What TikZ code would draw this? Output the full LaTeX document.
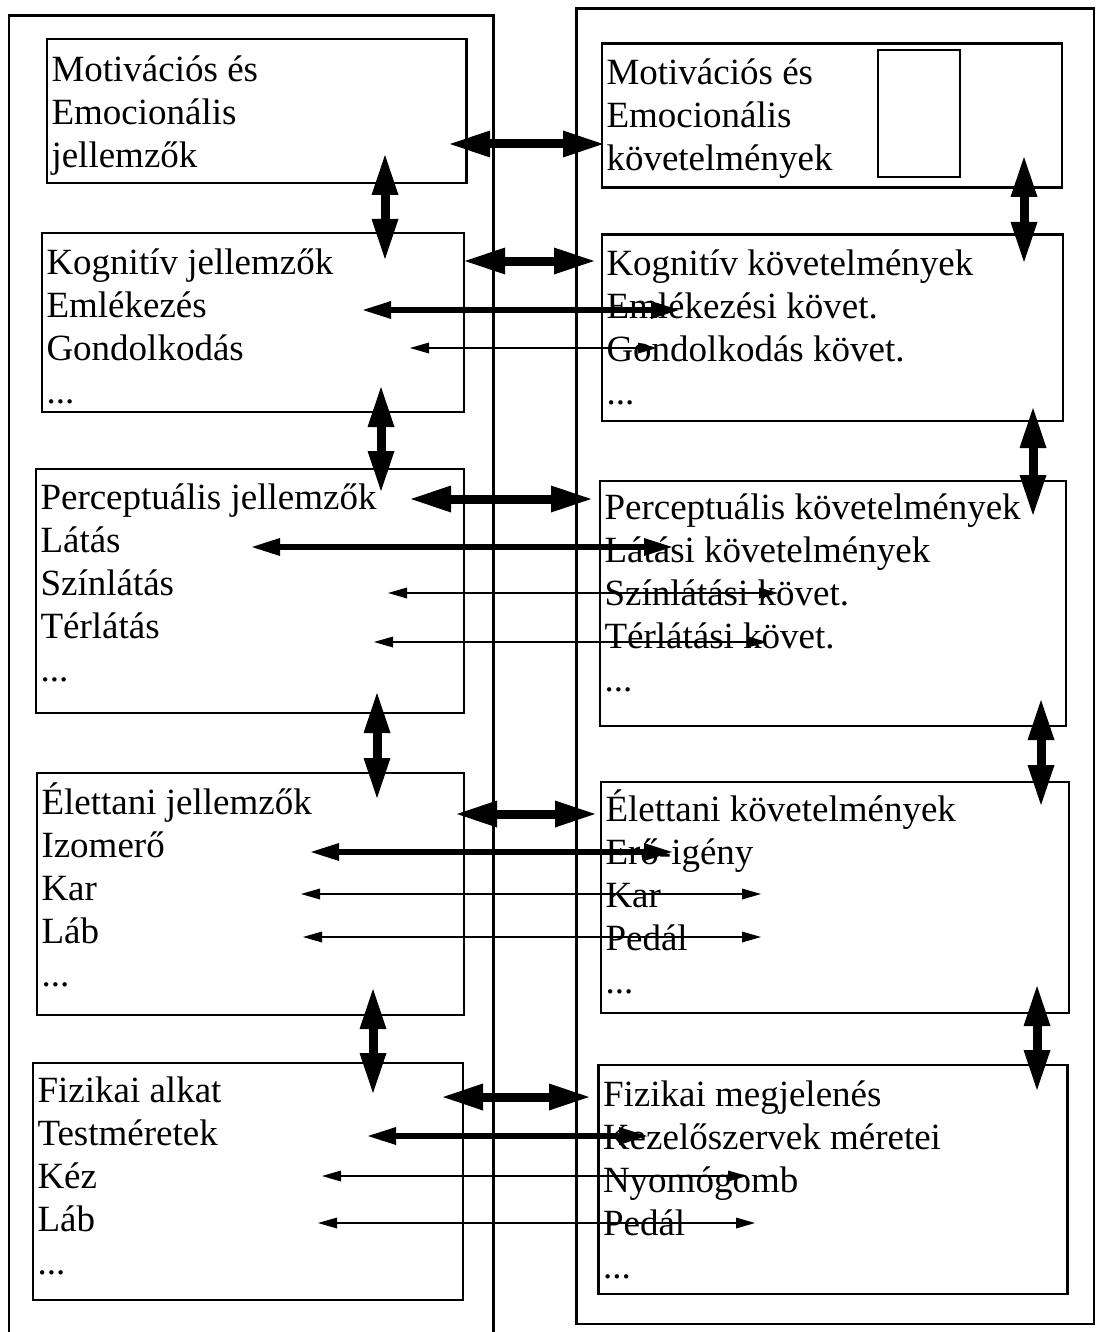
\documentclass[tikz,border=0pt]{standalone}
\usepackage{fontspec}
\setmainfont{Liberation Serif}
\usetikzlibrary{arrows.meta,calc}
\newcommand{\firstln}{\rule{0pt}{36pt}}
\begin{document}
\begin{tikzpicture}[x=1pt,y=-1pt,
  frame/.style={line width=2.6pt},
  box/.style={draw,line width=2.6pt,inner sep=0pt,outer sep=0pt,anchor=north west},
  txt/.style={inner sep=0pt,outer sep=0pt,anchor=north west,align=left,
    font=\fontsize{37}{43}\selectfont},
  bigarrow/.style={line width=9pt,{Triangle[length=40pt,width=27pt,line width=0pt]}-{Triangle[length=40pt,width=27pt,line width=0pt]}},
  midarrow/.style={line width=5.5pt,{Triangle[length=28pt,width=18pt,line width=0pt]}-{Triangle[length=28pt,width=18pt,line width=0pt]}},
  thinarrow/.style={line width=2.4pt,{Triangle[length=19pt,width=11pt,line width=0pt]}-{Triangle[length=19pt,width=11pt,line width=0pt]}}]
\useasboundingbox (0,0) rectangle (1097,1332);

% the two column frames (the left one runs off the bottom)
\draw[frame] (9,1332) -- (9,15.5) -- (493.5,15.5) -- (493.5,1332);
\node[box,minimum width=517.5pt,minimum height=1315.5pt] (rframe) at (576.5,8.5) {};

% left column: human characteristics
\node[box,minimum width=419.5pt,minimum height=144pt] (L1) at (47,39) {};
\node[box,minimum width=422pt,minimum height=179pt] (L2) at (42,233) {};
\node[box,minimum width=428pt,minimum height=244pt] (L3) at (36,469) {};
\node[box,minimum width=427pt,minimum height=242pt] (L4) at (37,773) {};
\node[box,minimum width=430pt,minimum height=237pt] (L5) at (33,1063) {};

% right column: requirements
\node[box,minimum width=460pt,minimum height=144pt] (R1) at (602,43.5) {};
\node[box,minimum width=82pt,minimum height=127pt] (R1i) at (878,50) {};
\node[box,minimum width=461pt,minimum height=186.5pt] (R2) at (602,234.5) {};
\node[box,minimum width=466pt,minimum height=245pt] (R3) at (600,481) {};
\node[box,minimum width=468pt,minimum height=231pt] (R4) at (601,782) {};
\node[box,minimum width=469pt,minimum height=229pt] (R5) at (598.5,1065) {};

% box texts
\node[txt] (L1t) at ($(L1.north west)+(4.5pt,-7pt)$) {\firstln Motivációs és\\Emocionális\\jellemzők};
\node[txt] (L2t) at ($(L2.north west)+(4.5pt,-5.5pt)$) {\firstln Kognitív jellemzők\\Emlékezés\\Gondolkodás\\...};
\node[txt] (L3t) at ($(L3.north west)+(4.5pt,-4.5pt)$) {\firstln Perceptuális jellemzők\\Látás\\Színlátás\\Térlátás\\...};
\node[txt] (L4t) at ($(L4.north west)+(4.5pt,-5pt)$) {\firstln Élettani jellemzők\\Izomerő\\Kar\\Láb\\...};
\node[txt] (L5t) at ($(L5.north west)+(4.5pt,-3.5pt)$) {\firstln Fizikai alkat\\Testméretek\\Kéz\\Láb\\...};
\node[txt] (R1t) at ($(R1.north west)+(4.5pt,-5pt)$) {\firstln Motivációs és\\Emocionális\\követelmények};
\node[txt] (R2t) at ($(R2.north west)+(4.5pt,-5pt)$) {\firstln Kognitív követelmények\\Emlékezési követ.\\Gondolkodás követ.\\...};
\node[txt] (R3t) at ($(R3.north west)+(4.5pt,-2.5pt)$) {\firstln Perceptuális követelmények\\Látási követelmények\\Színlátási követ.\\Térlátási követ.\\...};
\node[txt] (R4t) at ($(R4.north west)+(4.5pt,-3.5pt)$) {\firstln Élettani követelmények\\Erő-igény\\Kar\\Pedál\\...};
\node[txt] (R5t) at ($(R5.north west)+(4.5pt,-5pt)$) {\firstln Fizikai megjelenés\\Kezelőszervek méretei\\Nyomógomb\\Pedál\\...};

% arrow end points
\coordinate (h1a) at (450,144);   \coordinate (h1b) at (603,144);
\coordinate (h2a) at (465,261);   \coordinate (h2b) at (594,261);
\coordinate (h3a) at (411,499);   \coordinate (h3b) at (591,499);
\coordinate (h4a) at (457,814);   \coordinate (h4b) at (595,814);
\coordinate (h5a) at (443,1097);  \coordinate (h5b) at (589,1097);

\coordinate (vl1a) at (385,155);  \coordinate (vl1b) at (385,259);
\coordinate (vl2a) at (381,387);  \coordinate (vl2b) at (381,491);
\coordinate (vl3a) at (377,693);  \coordinate (vl3b) at (377,798);
\coordinate (vl4a) at (373,989);  \coordinate (vl4b) at (373,1093);
\coordinate (vr1a) at (1024,157); \coordinate (vr1b) at (1024,262);
\coordinate (vr2a) at (1033,408); \coordinate (vr2b) at (1033,515);
\coordinate (vr3a) at (1041,700); \coordinate (vr3b) at (1041,805);
\coordinate (vr4a) at (1037,986); \coordinate (vr4b) at (1037,1090);

\coordinate (m1a) at (363,310);   \coordinate (m1b) at (679,310);
\coordinate (m2a) at (252,547);   \coordinate (m2b) at (672,547);
\coordinate (m3a) at (311,852);   \coordinate (m3b) at (672,852);
\coordinate (m4a) at (368,1136);  \coordinate (m4b) at (647,1136);

\coordinate (t1a) at (410,348);   \coordinate (t1b) at (657,348);
\coordinate (t2a) at (388,593);   \coordinate (t2b) at (778,593);
\coordinate (t3a) at (374,642);   \coordinate (t3b) at (767,642);
\coordinate (t4a) at (301,894);   \coordinate (t4b) at (761,894);
\coordinate (t5a) at (303,937);   \coordinate (t5b) at (761,937);
\coordinate (t6a) at (322,1176);  \coordinate (t6b) at (747,1176);
\coordinate (t7a) at (318,1223);  \coordinate (t7b) at (755,1223);

% links between the columns and within each column
\foreach \p in {h1,h2,h3,h4,h5,vl1,vl2,vl3,vl4,vr1,vr2,vr3,vr4}
  \draw[bigarrow] (\p a) -- (\p b);
\foreach \p in {m1,m2,m3,m4}
  \draw[midarrow] (\p a) -- (\p b);
\foreach \p in {t1,t2,t3,t4,t5,t6,t7}
  \draw[thinarrow] (\p a) -- (\p b);
\end{tikzpicture}
\end{document}
